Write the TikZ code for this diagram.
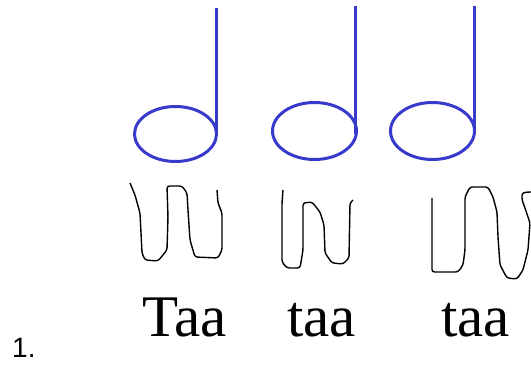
\documentclass[tikz,border=0pt]{standalone}
\usepackage{fontspec}
\setmainfont{Liberation Serif}
\newfontfamily\labelfont{Liberation Sans}
\definecolor{noteblue}{RGB}{56,58,204}
\begin{document}
\begin{tikzpicture}[x=1pt,y=-1pt,
  note/.style={draw=noteblue,line width=3pt},
  wave/.style={draw=black,line width=1.4pt,rounded corners=2.5pt,line join=round},
  syll/.style={anchor=base west,inner sep=0pt,font=\fontsize{59}{59}\selectfont},
  numlabel/.style={anchor=base west,inner sep=0pt,font=\labelfont\fontsize{28}{28}\selectfont}]
\useasboundingbox[fill=white] (0,0) rectangle (531,366);
% notes
\draw[note] (175.5,134) ellipse [x radius=41, y radius=27.5];
\draw[note] (216.5,8) -- (216.5,136);
\draw[note] (314.5,131) ellipse [x radius=42, y radius=28.5];
\draw[note] (355.5,6) -- (355.5,134);
\draw[note] (432.5,131) ellipse [x radius=42, y radius=28.5];
\draw[note] (474.5,6) -- (474.5,134);
% waves
\draw[wave] (130,183) -- (135,195) -- (140,213) -- (142,253) -- (145,260) -- (158,261) -- (167,250) -- (168,217) -- (167,186) -- (182,186) -- (187,193) -- (188,210) -- (190,240) -- (195,257) -- (218,258) -- (222,250) -- (222,213) -- (218,203) -- (217,190);
\draw[wave] (283,190) -- (282,203) -- (282,262) -- (287,268) -- (300,268) -- (303,250) -- (303,203) -- (312,202) -- (320,212) -- (324,225) -- (325,253) -- (332,263) -- (343,264) -- (349,258) -- (350,203) -- (353,200);
\draw[wave] (432,198) -- (432,272) -- (458,272) -- (463,265) -- (465,250) -- (465,197) -- (470,187) -- (488,187) -- (493,197) -- (497,212) -- (498,237) -- (500,265) -- (507,278) -- (517,279) -- (523,270) -- (528,250) -- (530,223) -- (525,208) -- (522,200) -- (522,193) -- (528,192) -- (532,192);
% texts
\node[syll] (s1) at (142,337) {Taa};
\node[syll] (s2) at (287,337) {taa};
\node[syll] (s3) at (441,337) {taa};
\node[numlabel] (n) at (12,358) {1.};
\end{tikzpicture}
\end{document}
